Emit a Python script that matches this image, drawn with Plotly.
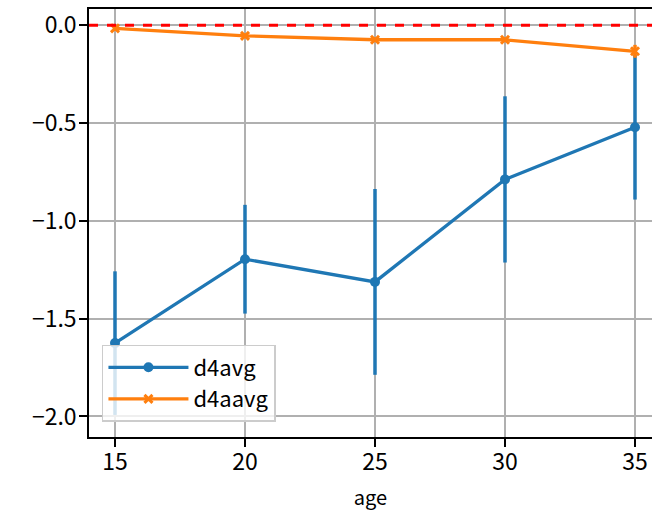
import plotly.graph_objects as go

ages = [15, 20, 25, 30, 35]
d4avg = [-1.625, -1.196, -1.312, -0.788, -0.521]
d4avg_err = [0.367, 0.278, 0.475, 0.425, 0.37]
d4aavg = [-0.016, -0.054, -0.074, -0.074, -0.133]
d4aavg_err = [0.012, 0.012, 0.012, 0.012, 0.033]
xticks = [15, 20, 25, 30, 35]
yticks = [0.0, -0.5, -1.0, -1.5, -2.0]
ytick_labels = ["0.0", "−0.5", "−1.0", "−1.5", "−2.0"]

FONT = "Noto Sans CJK JP"
BLUE = "#1f77b4"
ORANGE = "#ff7f0e"

fig = go.Figure()
fig.add_trace(go.Scatter(
    x=ages, y=d4avg, name="d4avg", mode="lines+markers",
    line=dict(color=BLUE, width=3.3),
    marker=dict(symbol="circle", size=10, color=BLUE),
    error_y=dict(type="data", array=d4avg_err, visible=True, color=BLUE, thickness=3.5, width=0),
))
fig.add_trace(go.Scatter(
    x=ages, y=d4aavg, name="d4aavg", mode="lines+markers",
    line=dict(color=ORANGE, width=3.3),
    marker=dict(symbol="x-thin", size=8, color=ORANGE, line=dict(color=ORANGE, width=3)),
    error_y=dict(type="data", array=d4aavg_err, visible=True, color=ORANGE, thickness=3.5, width=0),
))
fig.add_hline(y=0, line=dict(color="red", width=3, dash="dash"), layer="above")

fig.update_layout(
    width=652, height=511,
    margin=dict(l=89, r=0, t=9, b=74, autoexpand=False),
    paper_bgcolor="white", plot_bgcolor="white",
    font=dict(family=FONT, size=23, color="black"),
    showlegend=True,
    legend=dict(
        x=0.023, y=0.215, xanchor="left", yanchor="top",
        bgcolor="rgba(255,255,255,0.8)", bordercolor="#cccccc", borderwidth=1.5,
        font=dict(size=22), itemwidth=80,
    ),
)
fig.update_xaxes(
    range=[14, 35.654], tickvals=xticks, ticks="outside", ticklen=8, tickwidth=1.5,
    tickcolor="black", showline=True, linecolor="black", linewidth=1.5, mirror=True,
    showgrid=True, gridcolor="#b0b0b0", gridwidth=1.5, zeroline=False,
    title=dict(text="age", font=dict(size=20), standoff=17),
    tickfont=dict(size=23), automargin=True, ticklabelstandoff=-4,
    ticklabeloverflow="allow",
)
fig.update_yaxes(
    range=[-2.105, 0.0833], tickvals=yticks, ticktext=ytick_labels, ticks="outside",
    ticklen=8, tickwidth=1.5, tickcolor="black", showline=True, linecolor="black",
    linewidth=1.5, mirror=True, showgrid=True, gridcolor="#b0b0b0", gridwidth=1.5,
    zeroline=False, tickfont=dict(size=23), automargin=False, ticklabelstandoff=-2,
    ticklabeloverflow="allow",
)

fig.write_html(
    "out.html",
    config={"displayModeBar": False},
    post_script="document.body.style.margin='0';document.body.style.overflow='hidden';",
)
